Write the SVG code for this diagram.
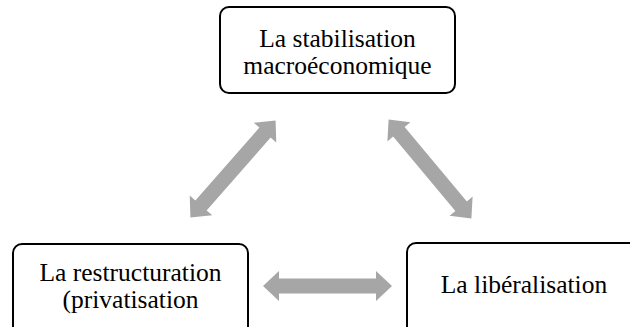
<svg xmlns="http://www.w3.org/2000/svg" width="630" height="327" viewBox="0 0 630 327">
  <style>
    .box { fill: #ffffff; stroke: #000000; stroke-width: 2; }
    .lbl { font-family: "Liberation Serif", "Times New Roman", serif; font-size: 25.5px; fill: #000000; text-anchor: middle; }
    .arr { fill: #a6a6a6; stroke: none; }
  </style>
  <defs>
    <path id="dblarrow" d="M -64.5 0 L -48.5 -15 L -48.5 -7.5 L 48.5 -7.5 L 48.5 -15 L 64.5 0 L 48.5 15 L 48.5 7.5 L -48.5 7.5 L -48.5 15 Z"/>
  </defs>
  <rect width="630" height="327" fill="#ffffff"/>
  <g id="connectors">
    <use href="#dblarrow" class="arr" transform="translate(233 169) rotate(-48.7)"/>
    <use href="#dblarrow" class="arr" transform="translate(430 169) rotate(50.1)"/>
    <use href="#dblarrow" class="arr" transform="translate(327.5 286)"/>
  </g>
  <g id="node-stabilisation">
    <rect class="box" x="220" y="7" width="235" height="86" rx="9"/>
    <text class="lbl" x="337.5" y="47">La stabilisation</text>
    <text class="lbl" x="337.5" y="74">macroéconomique</text>
  </g>
  <g id="node-restructuration">
    <rect class="box" x="13" y="244" width="235" height="100" rx="9"/>
    <text class="lbl" x="130.5" y="281">La restructuration</text>
    <text class="lbl" x="130.5" y="308">(privatisation</text>
  </g>
  <g id="node-liberalisation">
    <rect class="box" x="407" y="243" width="260" height="100" rx="9"/>
    <text class="lbl" x="524" y="293">La libéralisation</text>
  </g>
</svg>
